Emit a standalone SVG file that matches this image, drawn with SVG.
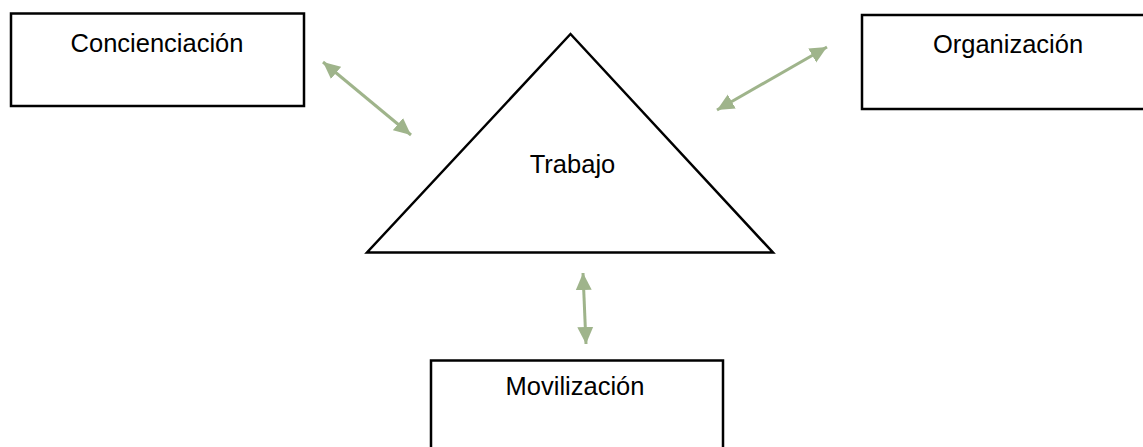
<svg xmlns="http://www.w3.org/2000/svg" width="1143" height="447" viewBox="0 0 1143 447">
<style>
.box{fill:#fff;stroke:#000;stroke-width:2.5}
.lbl{font-family:"Liberation Sans",Arial,sans-serif;font-size:25.5px;fill:#000;text-anchor:middle}
.conn{stroke:#9fb48b;stroke-width:3;fill:none;marker-start:url(#ah);marker-end:url(#ah)}
</style>
<defs>
<marker id="ah" markerUnits="userSpaceOnUse" markerWidth="18" markerHeight="18" viewBox="0 0 18 18" refX="17" refY="9" orient="auto-start-reverse">
<path d="M0,1 L17,9 L0,17 z" fill="#9fb48b"/>
</marker>
</defs>
<rect width="1143" height="447" fill="#fff"/>
<g id="concienciacion">
<rect class="box" x="11" y="13.5" width="293" height="92.5"/>
<text class="lbl" x="157" y="52">Concienciación</text>
</g>
<g id="organizacion">
<rect class="box" x="862" y="15" width="300" height="94"/>
<text class="lbl" x="1008" y="53">Organización</text>
</g>
<g id="movilizacion">
<rect class="box" x="431" y="360.5" width="292" height="100"/>
<text class="lbl" x="575" y="395">Movilización</text>
</g>
<g id="trabajo">
<polygon class="box" points="570.5,34 367,252.5 773,252.5"/>
<text class="lbl" x="572.5" y="173">Trabajo</text>
</g>
<g id="connectors">
<line class="conn" x1="323" y1="62" x2="411" y2="135"/>
<line class="conn" x1="827" y1="47" x2="717" y2="110"/>
<line class="conn" x1="583" y1="273" x2="586" y2="344"/>
</g>
</svg>
